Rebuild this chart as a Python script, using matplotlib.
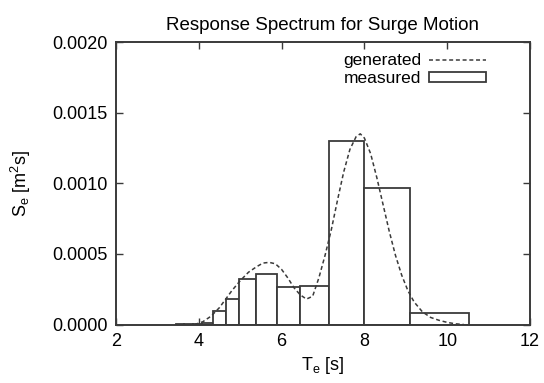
import numpy as np
import matplotlib
matplotlib.use("Agg")
import matplotlib.pyplot as plt

plt.rcParams["font.family"] = ["Liberation Sans", "DejaVu Sans"]

# measured histogram: bin edges in T_e [s] and bar heights [m^2 s]
BIN_EDGES = [3.45, 3.64, 3.85, 4.08, 4.35, 4.65, 4.98, 5.39, 5.90, 6.45, 7.15, 7.99, 9.10, 10.52]
BAR_HEIGHTS = [0.000002, 0.000004, 0.000006, 0.000014, 0.000094, 0.000181, 0.00032,
               0.00036, 0.000265, 0.00027, 0.0013, 0.00097, 0.000085]

# generated spectrum (dashed curve)
GEN_T = [3.9, 4.1, 4.3, 4.5, 4.65, 4.8, 5.0, 5.2, 5.4, 5.55, 5.7, 5.85, 6.0, 6.15, 6.3,
         6.45, 6.6, 6.75, 6.9, 7.05, 7.2, 7.35, 7.5, 7.65, 7.8, 7.9, 8.0, 8.15, 8.3,
         8.45, 8.6, 8.75, 8.9, 9.05, 9.2, 9.4, 9.6, 9.8, 10.0, 10.2, 10.4]
GEN_S = [0.0, 0.00002, 0.00006, 0.00012, 0.00018, 0.00024, 0.00031, 0.00037, 0.00041, 0.000435,
         0.00044, 0.00043, 0.00039, 0.00033, 0.00026, 0.00021, 0.00018, 0.0002, 0.00033, 0.00049,
         0.00067, 0.00088, 0.00108, 0.00124, 0.00133, 0.00135, 0.00132, 0.00121, 0.00104,
         0.00085, 0.00066, 0.00049, 0.00035, 0.00024, 0.00016, 0.00009, 0.00005, 0.00003,
         0.000015, 0.000005, 0.0]

X_TICKS = [2, 4, 6, 8, 10, 12]
Y_TICKS = [0.0, 0.0005, 0.0010, 0.0015, 0.0020]

LINE = "#3a3a3a"

fig = plt.figure(figsize=(5.44, 3.83), dpi=100)
ax = fig.add_axes([0.2132, 0.1527, 0.7611, 0.7376])

lefts = BIN_EDGES[:-1]
widths = np.diff(BIN_EDGES)
bars = ax.bar(lefts, BAR_HEIGHTS, width=widths, align="edge", facecolor="white",
              edgecolor=LINE, linewidth=1.3, label="measured", zorder=2)

gen_line, = ax.plot(GEN_T, GEN_S, linestyle=(0, (2.6, 1.8)), color=LINE, linewidth=1.1,
                    label="generated", zorder=3)

ax.set_xlim(2, 12)
ax.set_ylim(0, 0.002)
ax.set_xticks(X_TICKS)
ax.set_yticks(Y_TICKS)
ax.set_yticklabels([f"{v:.4f}" for v in Y_TICKS])
ax.tick_params(direction="in", length=5, width=1.0, color=LINE, labelsize=13,
               top=True, right=True, pad=6)
for s in ax.spines.values():
    s.set_color(LINE)
    s.set_linewidth(1.4)

ax.set_xlabel("T$_\\mathregular{e}$ [s]", fontsize=13, labelpad=4)
ax.set_ylabel("S$_\\mathregular{e}$ [m$^\\mathregular{2}$s]", fontsize=13, labelpad=14)
ax.set_title("Response Spectrum for Surge Motion", fontsize=13.5, pad=9)

ax.legend([gen_line, bars], ["generated", "measured"], loc="upper right",
          bbox_to_anchor=(0.91, 0.985), frameon=False, markerfirst=False,
          fontsize=12.5, handlelength=3.3, handleheight=0.5, labelspacing=0.15,
          borderaxespad=0.0, handletextpad=0.4)

fig.savefig("out.png", dpi=100)
